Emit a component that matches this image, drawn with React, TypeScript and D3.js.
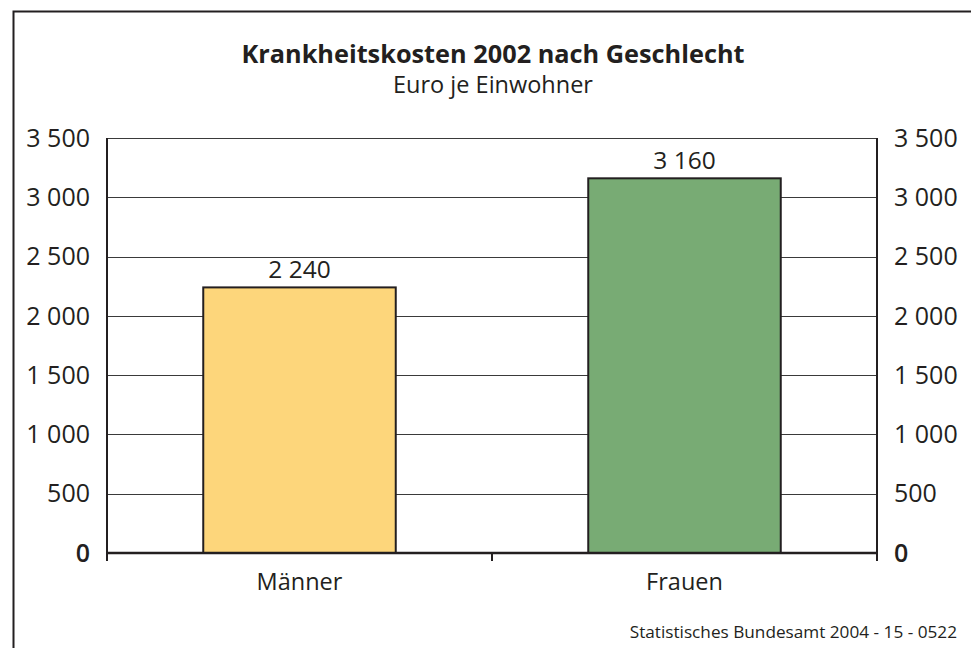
import React, { useEffect, useRef } from "react";
import * as d3 from "d3";

const categories = ["Männer", "Frauen"];
const values = [2240, 3160];
const barColors = ["#fdd67b", "#78ab74"];
const yTicks = [0, 500, 1000, 1500, 2000, 2500, 3000, 3500];
const valueLabels = ["2 240", "3 160"];

const fmt = (v: number) => (v === 0 ? "0" : d3.format(",")(v).replace(/,/g, " "));

function App() {
  const svgRef = useRef<SVGSVGElement | null>(null);

  useEffect(() => {
    const width = 971;
    const height = 648;
    const margin = { top: 138, right: 94, bottom: 95, left: 107 };
    const font = "'Open Sans', sans-serif";
    const ink = "#231f20";

    const svg = d3.select(svgRef.current);
    svg.selectAll("*").remove();
    svg.attr("width", width).attr("height", height);

    svg.append("rect")
      .attr("width", width).attr("height", height)
      .attr("fill", "#fff");

    // outer frame
    svg.append("rect")
      .attr("x", 13.5).attr("y", 11.5)
      .attr("width", width + 20).attr("height", height + 20)
      .attr("fill", "none")
      .attr("stroke", ink)
      .attr("stroke-width", 2);

    const x = d3.scaleBand()
      .domain(categories)
      .range([margin.left, width - margin.right])
      .paddingInner(0.5)
      .paddingOuter(0.25);

    const y = d3.scaleLinear()
      .domain([0, 3500])
      .range([height - margin.bottom, margin.top]);

    const g = svg.append("g");

    // grid lines
    g.selectAll(".grid")
      .data(yTicks.filter(t => t > 0))
      .enter().append("line")
      .attr("x1", margin.left).attr("x2", width - margin.right)
      .attr("y1", d => Math.round(y(d)) + 0.5)
      .attr("y2", d => Math.round(y(d)) + 0.5)
      .attr("stroke", "#3a3a3a")
      .attr("stroke-width", 1.2);

    // bars
    g.selectAll(".bar")
      .data(values)
      .enter().append("rect")
      .attr("x", (d, i) => x(categories[i])!)
      .attr("y", d => y(d))
      .attr("width", x.bandwidth())
      .attr("height", d => y(0) - y(d))
      .attr("fill", (d, i) => barColors[i])
      .attr("stroke", ink)
      .attr("stroke-width", 2);

    // value labels
    g.selectAll(".vlabel")
      .data(values)
      .enter().append("text")
      .attr("x", (d, i) => x(categories[i])! + x.bandwidth() / 2)
      .attr("y", d => y(d) - 9)
      .attr("text-anchor", "middle")
      .attr("font-family", font)
      .attr("font-size", 24.5)
      .attr("fill", ink)
      .text((d, i) => valueLabels[i]);

    // axes frame: left, right, bottom
    const x0 = margin.left, x1 = width - margin.right;
    const yb = y(0);
    g.append("line")
      .attr("x1", x0).attr("x2", x0)
      .attr("y1", margin.top).attr("y2", yb + 8)
      .attr("stroke", ink).attr("stroke-width", 2);
    g.append("line")
      .attr("x1", x1).attr("x2", x1)
      .attr("y1", margin.top).attr("y2", yb + 8)
      .attr("stroke", ink).attr("stroke-width", 2);
    g.append("line")
      .attr("x1", x0).attr("x2", x1)
      .attr("y1", yb).attr("y2", yb)
      .attr("stroke", ink).attr("stroke-width", 2.5);
    // category divider tick
    g.append("line")
      .attr("x1", (x0 + x1) / 2).attr("x2", (x0 + x1) / 2)
      .attr("y1", yb).attr("y2", yb + 8)
      .attr("stroke", ink).attr("stroke-width", 2);

    // y tick labels, both sides
    [
      { xPos: 90, anchor: "end" },
      { xPos: 894, anchor: "start" },
    ].forEach(side => {
      g.selectAll(null)
        .data(yTicks)
        .enter().append("text")
        .attr("x", side.xPos)
        .attr("y", d => y(d))
        .attr("dy", "0.35em")
        .attr("text-anchor", side.anchor)
        .attr("font-family", font)
        .attr("font-size", 25)
        .attr("font-weight", d => (d === 0 ? 600 : 400))
        .attr("fill", ink)
        .text(d => fmt(d));
    });

    // category labels
    g.selectAll(".clabel")
      .data(categories)
      .enter().append("text")
      .attr("x", d => x(d)! + x.bandwidth() / 2)
      .attr("y", yb + 37)
      .attr("text-anchor", "middle")
      .attr("font-family", font)
      .attr("font-size", 23.5)
      .attr("fill", ink)
      .text(d => d);

    // title
    svg.append("text")
      .attr("x", 493).attr("y", 63)
      .attr("text-anchor", "middle")
      .attr("font-family", font)
      .attr("font-size", 25.3)
      .attr("font-weight", 700)
      .attr("fill", ink)
      .text("Krankheitskosten 2002 nach Geschlecht");

    svg.append("text")
      .attr("x", 493).attr("y", 93)
      .attr("text-anchor", "middle")
      .attr("font-family", font)
      .attr("font-size", 23.5)
      .attr("fill", ink)
      .text("Euro je Einwohner");

    svg.append("text")
      .attr("x", 957).attr("y", 638)
      .attr("text-anchor", "end")
      .attr("font-family", font)
      .attr("font-size", 17.2)
      .attr("fill", ink)
      .text("Statistisches Bundesamt 2004 - 15 - 0522");
  }, []);

  return (
    <div style={{ position: "absolute", left: 0, top: 0, width: 971, height: 648, overflow: "hidden" }}>
      <svg ref={svgRef} style={{ display: "block" }}></svg>
    </div>
  );
}

export default App;
